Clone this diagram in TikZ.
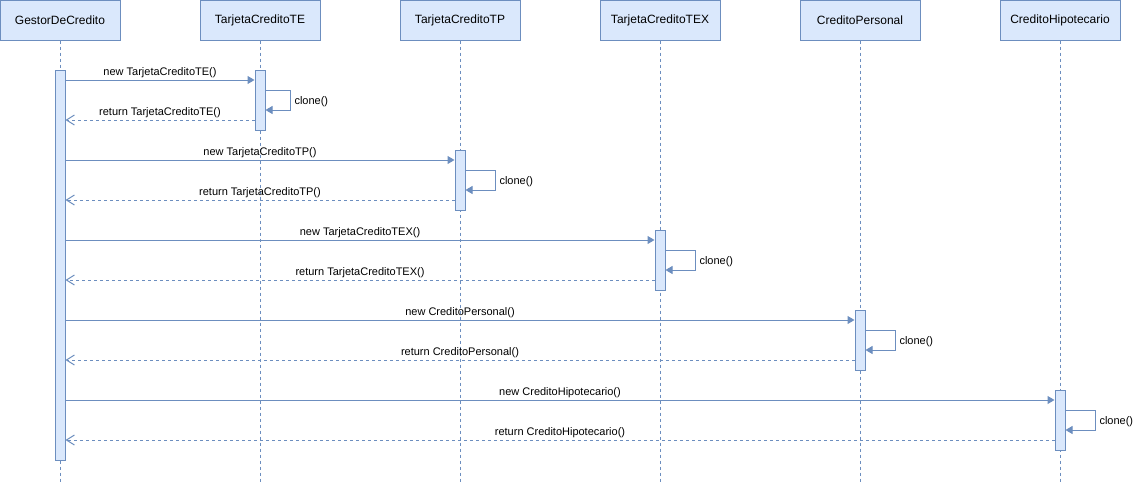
\documentclass[tikz,border=0pt]{standalone}
\usepackage{fontspec}
\setmainfont{Liberation Sans}
\usetikzlibrary{arrows.meta}
\definecolor{bfill}{HTML}{DAE8FC}
\definecolor{bline}{HTML}{6C8EBF}
\begin{document}
\begin{tikzpicture}[x=1pt,y=-1pt,
  head/.style={draw=bline,fill=bfill,line width=1pt,minimum width=120pt,minimum height=40pt,inner sep=0pt,font=\fontsize{12}{14}\selectfont},
  life/.style={draw=bline,line width=1pt,dash pattern=on 3pt off 3pt},
  act/.style={draw=bline,fill=bfill,line width=1pt,minimum width=10pt,inner sep=0pt},
  msg/.style={draw=bline,line width=1pt,-{Triangle[length=7pt,width=8pt]}},
  ret/.style={draw=bline,line width=1pt,dash pattern=on 3pt off 3pt,-{Straight Barb[length=8pt,width=10pt]}},
  lbl/.style={font=\fontsize{11}{13}\selectfont,text=black,inner sep=1.5pt},
  clbl/.style={lbl,inner xsep=3.5pt,yshift=-1.5pt},
]
\useasboundingbox (0,0) rectangle (1134,482);
\fill[white] (0,0) rectangle (1134,482);
% headers
\node[head] (h1) at (60,20) {GestorDeCredito};
\node[head] (h2) at (260,20) {TarjetaCreditoTE};
\node[head] (h3) at (460,20) {TarjetaCreditoTP};
\node[head] (h4) at (660,20) {TarjetaCreditoTEX};
\node[head] (h5) at (860,20) {CreditoPersonal};
\node[head] (h6) at (1060,20) {CreditoHipotecario};
% lifeline ends
\coordinate (e1) at (60,482);
\coordinate (e2) at (260,482);
\coordinate (e3) at (460,482);
\coordinate (e4) at (660,482);
\coordinate (e5) at (860,482);
\coordinate (e6) at (1060,482);
\foreach \i in {1,...,6} { \draw[life] (h\i.south) -- (e\i); }
% activation bars
\node[act,minimum height=390pt] (a1) at (60,265) {};
\node[act,minimum height=60pt] (a2) at (260,100) {};
\node[act,minimum height=60pt] (a3) at (460,180) {};
\node[act,minimum height=60pt] (a4) at (660,260) {};
\node[act,minimum height=60pt] (a5) at (860,340) {};
\node[act,minimum height=60pt] (a6) at (1060,420) {};
% level coordinates
\foreach \y in {80,90,110,120,160,170,190,200,240,250,270,280,320,330,350,360,400,410,430,440} {
  \coordinate (y\y) at (0,\y);
}
% TE
\draw[msg] (a1.east |- y80) -- node[lbl,above]{new TarjetaCreditoTE()} (a2.west |- y80);
\draw[msg] (a2.east |- y90) -- ++(25,0) -- node[clbl,right]{clone()} ++(0,20) -- (a2.east |- y110);
\draw[ret] (a2.west |- y120) -- node[lbl,above]{return TarjetaCreditoTE()} (a1.east |- y120);
% TP
\draw[msg] (a1.east |- y160) -- node[lbl,above]{new TarjetaCreditoTP()} (a3.west |- y160);
\draw[msg] (a3.east |- y170) -- ++(30,0) -- node[clbl,right]{clone()} ++(0,20) -- (a3.east |- y190);
\draw[ret] (a3.west |- y200) -- node[lbl,above]{return TarjetaCreditoTP()} (a1.east |- y200);
% TEX
\draw[msg] (a1.east |- y240) -- node[lbl,above]{new TarjetaCreditoTEX()} (a4.west |- y240);
\draw[msg] (a4.east |- y250) -- ++(30,0) -- node[clbl,right]{clone()} ++(0,20) -- (a4.east |- y270);
\draw[ret] (a4.west |- y280) -- node[lbl,above]{return TarjetaCreditoTEX()} (a1.east |- y280);
% CP
\draw[msg] (a1.east |- y320) -- node[lbl,above]{new CreditoPersonal()} (a5.west |- y320);
\draw[msg] (a5.east |- y330) -- ++(30,0) -- node[clbl,right]{clone()} ++(0,20) -- (a5.east |- y350);
\draw[ret] (a5.west |- y360) -- node[lbl,above]{return CreditoPersonal()} (a1.east |- y360);
% CH
\draw[msg] (a1.east |- y400) -- node[lbl,above]{new CreditoHipotecario()} (a6.west |- y400);
\draw[msg] (a6.east |- y410) -- ++(30,0) -- node[clbl,right]{clone()} ++(0,20) -- (a6.east |- y430);
\draw[ret] (a6.west |- y440) -- node[lbl,above]{return CreditoHipotecario()} (a1.east |- y440);
\end{tikzpicture}
\end{document}
